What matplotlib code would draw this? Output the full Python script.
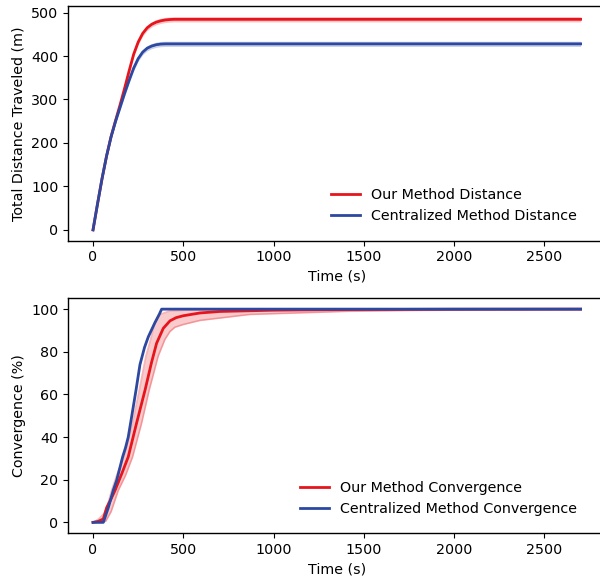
import matplotlib
matplotlib.use("Agg")
import matplotlib.pyplot as plt
import numpy as np

# Total distance travelled (m) over time (s)
dist_time = [0, 25, 50, 75, 100, 125, 150, 175, 200, 225, 250, 275, 300, 325,
             350, 375, 400, 425, 450, 500, 1000, 1500, 2000, 2500, 2700]
dist_ours = [0, 60, 118, 170, 215, 252, 288, 326, 366, 404, 432, 452, 465, 473,
             478, 481, 483, 484, 484.5, 484.5, 484.5, 484.5, 484.5, 484.5, 484.5]
dist_central = [0, 60, 118, 170, 214, 250, 282, 314, 344, 372, 394, 409, 418, 423,
                426, 427.5, 428, 428, 428, 428, 428, 428, 428, 428, 428]
dist_spread = 6.0

# Convergence (%) over time (s)
conv_c_time = [0, 57, 85, 112, 131, 164, 180, 195, 214, 238, 260, 285, 306, 343, 367, 380, 2700]
conv_c_val = [0, 0, 7, 15, 19.7, 30.7, 35, 40, 49.6, 62, 74, 82, 87, 93.7, 97.6, 100, 100]

conv_o_time = [0, 30, 57, 76, 100, 122, 160, 195, 241, 288, 324, 352, 389, 426,
               460, 500, 592, 700, 1000, 1292, 1600, 2000, 2700]
conv_o_val = [0, 0.5, 1.6, 7, 11, 15, 23, 30.7, 46.5, 62, 75, 84, 91, 94.5,
              96, 96.9, 98.2, 98.9, 99.5, 99.75, 99.85, 99.95, 100]

conv_lo_time = [0, 40, 70, 100, 140, 180, 219, 269, 311, 361, 398, 426, 453, 500,
                592, 868, 1421, 1800, 2200, 2700]
conv_lo_val = [0, 0, 0.5, 5, 15, 22, 30.7, 46.5, 62, 78, 85.8, 89.5, 91.5, 92.8,
               94.7, 97.5, 99.0, 99.4, 99.7, 99.9]

conv_hi_time = [0, 30, 60, 80, 103, 135, 171, 219, 256, 293, 319, 340, 371, 426,
                553, 800, 2700]
conv_hi_val = [0, 1.5, 4, 8, 15, 23, 30.7, 46.5, 62, 78, 85.8, 93, 97.5, 99.2,
               99.7, 100, 100]

RED = "#e8141c"
BLUE = "#2c48a0"

plt.rcParams["font.family"] = ["DejaVu Sans"]
plt.rcParams["font.size"] = 10.3

fig = plt.figure(figsize=(6.0, 5.79), dpi=100)
ax1 = fig.add_axes([0.1138, 0.5846, 0.8945, 0.4042])
ax2 = fig.add_axes([0.1138, 0.0794, 0.8945, 0.4051])

# Distance panel
t = np.array(dist_time, dtype=float)
d_o = np.array(dist_ours)
d_c = np.array(dist_central)
ax1.fill_between(t, d_o - dist_spread, d_o + dist_spread, color=RED, alpha=0.25, lw=0)
ax1.fill_between(t, d_c - dist_spread, d_c + dist_spread, color=BLUE, alpha=0.25, lw=0)
ax1.plot(t, d_o, color=RED, lw=2, label="Our Method Distance")
ax1.plot(t, d_c, color=BLUE, lw=2, label="Centralized Method Distance")
ax1.set_xlabel("Time (s)")
ax1.set_ylabel("Total Distance Traveled (m)")
ax1.set_yticks([0, 100, 200, 300, 400, 500])
ax1.set_xticks([0, 500, 1000, 1500, 2000, 2500])
ax1.legend(loc="lower right", frameon=False, borderaxespad=0,
           bbox_to_anchor=(0.959, 0.05))

# Convergence panel: band between the slowest and fastest runs
band_t = np.union1d(conv_lo_time, conv_hi_time)
lo = np.interp(band_t, conv_lo_time, conv_lo_val)
hi = np.interp(band_t, conv_hi_time, conv_hi_val)
ax2.fill_between(band_t, lo, hi, color=RED, alpha=0.22, lw=0)
ax2.plot(band_t, lo, color=RED, alpha=0.3, lw=1.2)
ax2.plot(band_t, hi, color=RED, alpha=0.3, lw=1.2)
ax2.plot(conv_o_time, conv_o_val, color=RED, lw=2, label="Our Method Convergence")
ax2.plot(conv_c_time, conv_c_val, color=BLUE, lw=2, label="Centralized Method Convergence")
ax2.set_xlabel("Time (s)")
ax2.set_ylabel("Convergence (%)")
ax2.set_yticks([0, 20, 40, 60, 80, 100])
ax2.set_xticks([0, 500, 1000, 1500, 2000, 2500])
ax2.legend(loc="lower right", frameon=False, borderaxespad=0,
           bbox_to_anchor=(0.959, 0.047))

for ax in (ax1, ax2):
    ax.set_xlim(-137, 2835)
    for s in ax.spines.values():
        s.set_linewidth(1.0)
ax1.set_ylim(-24.5, 514)
ax2.set_ylim(-5, 105)

fig.savefig("out.png", dpi=100)
